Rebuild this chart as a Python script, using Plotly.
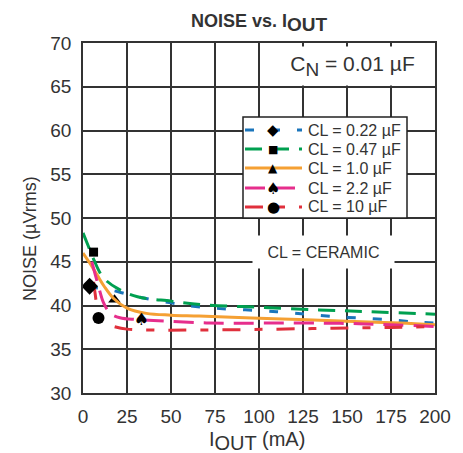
import plotly.graph_objects as go

# ---- data ----
x_022 = [3.5, 8, 15, 25, 31, 50, 68, 110, 142, 172, 190, 200]
y_022 = [42.2, 42.0, 41.8, 41.3, 41.0, 40.3, 39.8, 39.3, 38.75, 38.4, 38.1, 38.0]

x_047 = [0, 3, 6, 11.5, 20, 31, 50, 68, 100, 134, 162, 200]
y_047 = [48.3, 46.8, 45.3, 43.2, 41.9, 41.0, 40.5, 40.1, 39.8, 39.5, 39.3, 39.0]

x_10 = [0, 4, 8, 12, 17.4, 25, 36, 50, 66, 100, 123, 150, 180, 200]
y_10 = [46.0, 44.8, 43.5, 42.2, 40.8, 39.7, 39.1, 38.9, 38.8, 38.55, 38.4, 38.2, 38.0, 37.8]

x_22 = [5, 7, 8.8, 11.7, 15.5, 21, 30, 40, 72, 126, 160, 200]
y_22 = [45.0, 43.5, 42.2, 40.3, 39.1, 38.6, 38.4, 38.3, 38.0, 38.0, 37.9, 37.6]

x_100 = [6, 7, 8, 10.8, 13, 17.4, 25, 40, 70, 110, 142, 175, 200]
y_100 = [42.7, 41.2, 39.9, 38.4, 37.9, 37.6, 37.3, 37.2, 37.2, 37.3, 37.4, 37.5, 37.6]

# marker positions (one per series)
mark_x = [3.75, 6.0, 17.9, 33.1, 8.8]
mark_y = [42.2, 46.1, 40.65, 38.28, 38.56]

labels = ["CL = 0.22 \u00b5F", "CL = 0.47 \u00b5F", "CL = 1.0 \u00b5F",
          "CL = 2.2 \u00b5F", "CL = 10 \u00b5F"]
x_ticks = [0, 25, 50, 75, 100, 125, 150, 175, 200]
y_ticks = [30, 35, 40, 45, 50, 55, 60, 65, 70]

colors = ["#1a75bb", "#00a050", "#f5a033", "#e62e8c", "#e0303c"]
dashes = ["9px,17px", "17px,10px", "solid", "20px,10px", "18px,14px,8px,14px"]
symbols = ["diamond", "square", "triangle-up", None, "circle"]
msizes = [13, 9, 11, 12, 12]
glyphs = ["\u25c6", "\u25a0", "\u25b2", "\u2660", "\u25cf"]
gsizes = [15, 11, 12, 16, 15]

series = [(x_022, y_022), (x_047, y_047), (x_10, y_10), (x_22, y_22), (x_100, y_100)]

FONT = "Liberation Sans, Arial, Helvetica, sans-serif"
TXT = "#333333"

fig = go.Figure()

# triangle marker sits under the orange line
fig.add_trace(go.Scatter(x=[mark_x[2]], y=[mark_y[2]], mode="markers",
                         marker=dict(symbol=symbols[2], size=msizes[2], color="black"),
                         showlegend=False, hoverinfo="skip"))

for i, (xs, ys) in enumerate(series):
    fig.add_trace(go.Scatter(x=xs, y=ys, mode="lines", line_shape="spline",
                             line=dict(color=colors[i], width=3, dash=dashes[i]),
                             name=labels[i], showlegend=False))

for i in [0, 1, 4]:
    fig.add_trace(go.Scatter(x=[mark_x[i]], y=[mark_y[i]], mode="markers",
                             marker=dict(symbol=symbols[i], size=msizes[i], color="black"),
                             showlegend=False, hoverinfo="skip"))
# spade marker as text glyph
fig.add_trace(go.Scatter(x=[mark_x[3]], y=[mark_y[3]], mode="text", text=[glyphs[3]],
                         textfont=dict(size=17, color="black", family="DejaVu Sans"),
                         showlegend=False, hoverinfo="skip"))

L, R, T, B = 83, 28, 43, 60
W, H = 463, 453
pw, ph = W - L - R, H - T - B

def px(xp):
    return (xp - L) / pw

def py(yp):
    return (H - B - yp) / ph

shapes = [
    # legend box
    dict(type="rect", xref="paper", yref="paper", x0=px(243), x1=px(407), y0=py(218), y1=py(117),
         fillcolor="white", line=dict(width=1.5, color="#222"), layer="above"),
]
annotations = [
    dict(text="<b>NOISE vs. I<sub><span style='font-size:19px'>OUT</span></sub></b>",
         xref="paper", yref="paper", x=px(259), y=py(23), yanchor="middle",
         showarrow=False, font=dict(size=18, color=TXT, family=FONT)),
    # C_N label with white background box
    dict(text="C<sub><span style='font-size:19px'>N</span></sub> = 0.01 \u00b5F",
         xref="paper", yref="paper", x=px(270), y=py(46), xanchor="left", yanchor="top",
         width=163, height=38, align="center", valign="middle", bgcolor="white",
         borderpad=0, showarrow=False, font=dict(size=21, color=TXT, family=FONT)),
    dict(text="CL = CERAMIC", xref="paper", yref="paper",
         x=px(252), y=py(235), xanchor="left", yanchor="top", width=141, height=32,
         align="center", valign="middle", bgcolor="white", borderpad=0,
         showarrow=False, font=dict(size=16, color=TXT, family=FONT)),
    dict(text="NOISE (\u00b5Vrms)", xref="paper", yref="paper", textangle=-90,
         x=px(18), y=py(239), showarrow=False, font=dict(size=18, color=TXT, family=FONT)),
    dict(text="I<sub><span style='font-size:20px'>OUT</span></sub> (mA)", xref="paper", yref="paper",
         x=px(257), y=py(426), yanchor="top", showarrow=False,
         font=dict(size=20, color=TXT, family=FONT)),
]

row_y = [130, 149, 168, 188, 207]
for i in range(5):
    shapes.append(dict(type="line", xref="paper", yref="paper", x0=px(245), x1=px(302),
                       y0=py(row_y[i]), y1=py(row_y[i]), layer="above",
                       line=dict(color=colors[i], width=3, dash=dashes[i])))
    annotations.append(dict(text=glyphs[i], xref="paper", yref="paper", x=px(273),
                            y=py(row_y[i]), xanchor="center", yanchor="middle", showarrow=False,
                            font=dict(size=gsizes[i], color="black", family="DejaVu Sans")))
    annotations.append(dict(text=labels[i], xref="paper", yref="paper", x=px(306),
                            y=py(row_y[i]), xanchor="left", yanchor="middle", showarrow=False,
                            font=dict(size=16, color=TXT, family=FONT)))

fig.update_layout(
    width=W, height=H,
    margin=dict(l=L, r=R, t=T, b=B),
    paper_bgcolor="white", plot_bgcolor="white",
    font=dict(family=FONT, color=TXT),
    showlegend=False,
    xaxis=dict(range=[0, 200], tickvals=x_ticks, showgrid=True, gridcolor="#333",
               gridwidth=1.5, zeroline=False, showline=True, linecolor="#333", linewidth=1.5,
               mirror=True, ticks="", tickfont=dict(size=19, color=TXT),
               ticklabelstandoff=5),
    yaxis=dict(range=[30, 70], tickvals=y_ticks, showgrid=True, gridcolor="#333",
               gridwidth=1.5, zeroline=False, showline=True, linecolor="#333", linewidth=1.5,
               mirror=True, ticks="", tickfont=dict(size=19, color=TXT),
               ticklabelstandoff=6),
    shapes=shapes,
    annotations=annotations,
)

fig.write_html("out.html", config={"displayModeBar": False},
               post_script="document.body.style.margin='0px';")
